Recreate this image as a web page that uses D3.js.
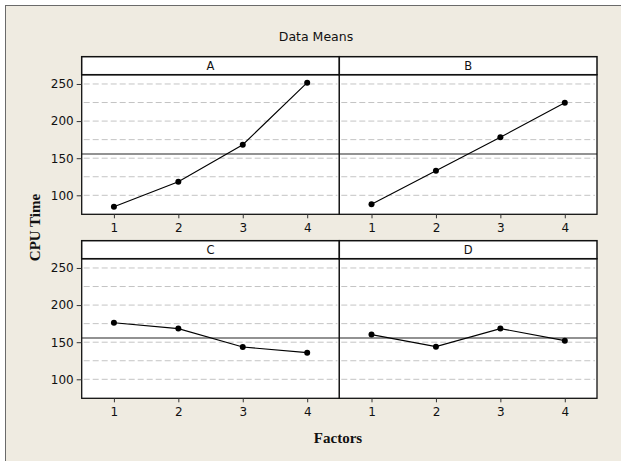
<!DOCTYPE html>
<html>
<head>
<meta charset="utf-8">
<script src="https://cdn.jsdelivr.net/npm/d3@7"></script>
<style>
  html, body { margin: 0; padding: 0; background: #ffffff; }
  svg { display: block; }
</style>
</head>
<body>
<svg id="chart" width="621" height="461"></svg>
<script>
// ---- data ----
const factors = ["A", "B", "C", "D"];
const levels = [1, 2, 3, 4];
const meansA = [84.6, 118.3, 168.2, 251.8];
const meansB = [87.9, 133.2, 178.2, 224.8];
const meansC = [176.3, 168.3, 143.6, 135.9];
const meansD = [160.2, 144.0, 168.3, 152.1];
const grandMean = 155.7;
const yTickValues = [100, 150, 200, 250];
const gridValues = [100, 125, 150, 175, 200, 225, 250];
const yDomain = [74.4, 262.5];
const xDomain = [0.5, 4.5];
const titleText = "Data Means";
const yTitle = "CPU Time";
const xTitle = "Factors";

const seriesList = [meansA, meansB, meansC, meansD];

// ---- layout ----
const svg = d3.select("#chart");
const font = "'DejaVu Sans', Tahoma, sans-serif";
const serif = "'Liberation Serif', 'Times New Roman', serif";

svg.append("rect")
  .attr("x", 5.5).attr("y", 5.5).attr("width", 640).attr("height", 480)
  .attr("fill", "#EFEBE1").attr("stroke", "#6a6a6a").attr("stroke-width", 1);

const colX = [81.7, 339.3];
const colW = 257.7;
const rowTop = [56.7, 240.7];
const stripH = 18;
const plotH = 139.6;

svg.append("text")
  .attr("x", 316).attr("y", 41)
  .attr("text-anchor", "middle")
  .attr("font-family", font).attr("font-size", 12.5)
  .attr("fill", "#111")
  .text(titleText);

factors.forEach((f, i) => {
  const col = i % 2, row = Math.floor(i / 2);
  const x0 = colX[col];
  const sTop = rowTop[row];
  const pTop = sTop + stripH;
  const pBot = pTop + plotH;
  const x = d3.scaleLinear().domain(xDomain).range([x0, x0 + colW]);
  const y = d3.scaleLinear().domain(yDomain).range([pBot, pTop]);
  const g = svg.append("g");

  // plot background
  g.append("rect").attr("x", x0).attr("y", pTop).attr("width", colW).attr("height", plotH)
    .attr("fill", "#ffffff");

  // gridlines
  g.selectAll("line.grid").data(gridValues).enter().append("line")
    .attr("x1", x0 + 2).attr("x2", x0 + colW - 2)
    .attr("y1", d => y(d)).attr("y2", d => y(d))
    .attr("stroke", "#c4c4c4").attr("stroke-width", 1)
    .attr("stroke-dasharray", "6,3");

  // grand mean reference line
  g.append("line")
    .attr("x1", x0).attr("x2", x0 + colW)
    .attr("y1", y(grandMean)).attr("y2", y(grandMean))
    .attr("stroke", "#6e6e6e").attr("stroke-width", 1.5);

  // series line and points
  const vals = seriesList[i];
  const pts = levels.map((l, k) => [l, vals[k]]);
  g.append("path")
    .attr("d", d3.line().x(d => x(d[0])).y(d => y(d[1]))(pts))
    .attr("fill", "none").attr("stroke", "#000").attr("stroke-width", 1.1);
  g.selectAll("circle").data(pts).enter().append("circle")
    .attr("cx", d => x(d[0])).attr("cy", d => y(d[1])).attr("r", 3)
    .attr("fill", "#000");

  // panel border
  g.append("rect").attr("x", x0).attr("y", pTop).attr("width", colW).attr("height", plotH)
    .attr("fill", "none").attr("stroke", "#111").attr("stroke-width", 1.3);

  // strip
  g.append("rect").attr("x", x0).attr("y", sTop).attr("width", colW).attr("height", stripH)
    .attr("fill", "#ffffff").attr("stroke", "#111").attr("stroke-width", 1.5);
  g.append("text")
    .attr("x", x0 + colW / 2).attr("y", sTop + 13.5)
    .attr("text-anchor", "middle")
    .attr("font-family", font).attr("font-size", 11.5).attr("fill", "#111")
    .text(f);

  // x axis
  const xa = g.append("g").attr("transform", `translate(0,${pBot})`)
    .call(d3.axisBottom(x).tickValues(levels).tickFormat(d3.format("d")).tickSize(4).tickPadding(5));
  xa.select(".domain").remove();
  xa.selectAll("line").attr("stroke", "#333");
  xa.selectAll("text").attr("font-family", font).attr("font-size", 12).attr("fill", "#111");

  // y axis (left column only)
  if (col === 0) {
    const ya = g.append("g").attr("transform", `translate(${x0},0)`)
      .call(d3.axisLeft(y).tickValues(yTickValues).tickSize(5).tickPadding(3));
    ya.select(".domain").remove();
    ya.selectAll("line").attr("stroke", "#333");
    ya.selectAll("text").attr("font-family", font).attr("font-size", 12).attr("fill", "#111");
  }
});

// axis titles
svg.append("text")
  .attr("transform", `translate(40,${(rowTop[0] + rowTop[1] + stripH + plotH) / 2}) rotate(-90)`)
  .attr("text-anchor", "middle")
  .attr("font-family", serif).attr("font-weight", "bold").attr("font-size", 15)
  .attr("fill", "#111")
  .text(yTitle);

svg.append("text")
  .attr("x", 338).attr("y", 443)
  .attr("text-anchor", "middle")
  .attr("font-family", serif).attr("font-weight", "bold").attr("font-size", 15)
  .attr("fill", "#111")
  .text(xTitle);
</script>
</body>
</html>
